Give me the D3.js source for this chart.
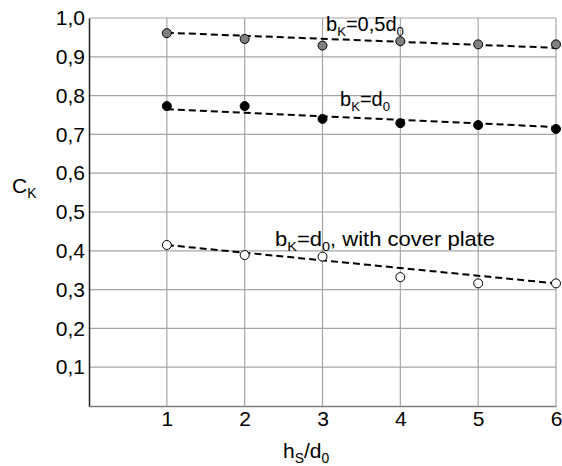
<!DOCTYPE html>
<html>
<head>
<meta charset="utf-8">
<script src="https://cdn.jsdelivr.net/npm/d3@7"></script>
<style>
  body { margin: 0; background: #fff; }
  text { font-family: "Liberation Sans", Arial, sans-serif; }
</style>
</head>
<body>
<div id="chart"></div>
<script>
// values
var hsRatio = [1, 2, 3, 4, 5, 6];
var ckHalf = [0.961, 0.946, 0.929, 0.940, 0.932, 0.932];   // bK = 0,5 d0
var ckFull = [0.773, 0.773, 0.740, 0.729, 0.724, 0.714];   // bK = d0
var ckPlate = [0.415, 0.389, 0.385, 0.332, 0.316, 0.316];  // bK = d0, with cover plate
// trend lines (value at x=1, value at x=6)
var trendHalf = [0.962, 0.923];
var trendFull = [0.765, 0.719];
var trendPlate = [0.415, 0.316];
var yTicks = [0.1, 0.2, 0.3, 0.4, 0.5, 0.6, 0.7, 0.8, 0.9, 1.0];

var W = 562, H = 466;
var margin = {top: 18, right: 6, bottom: 60, left: 89};

var svg = d3.select("#chart").append("svg")
    .attr("width", W)
    .attr("height", H);

var x = d3.scaleLinear().domain([0, 6]).range([margin.left, W - margin.right]);
var y = d3.scaleLinear().domain([0, 1]).range([H - margin.bottom, margin.top]);

/*grid*/
var grid = svg.append("g").attr("class", "grid");
grid.selectAll("line.h")
    .data(yTicks)
    .enter().append("line")
    .attr("x1", x(0)).attr("x2", x(6))
    .attr("y1", function (d) { return y(d); })
    .attr("y2", function (d) { return y(d); })
    .attr("stroke", "#a6a6a6").attr("stroke-width", 1.2);
grid.selectAll("line.v")
    .data(hsRatio)
    .enter().append("line")
    .attr("y1", y(0)).attr("y2", y(1))
    .attr("x1", function (d) { return x(d); })
    .attr("x2", function (d) { return x(d); })
    .attr("stroke", "#a6a6a6").attr("stroke-width", 1.2);

/*axes*/
var fmt = function (d) { return d3.format(".1f")(d).replace(".", ","); };
var yAxis = d3.axisLeft(y).tickValues(yTicks).tickSize(0).tickPadding(4).tickFormat(fmt);
var xAxis = d3.axisBottom(x).tickValues(hsRatio).tickSize(0).tickPadding(5).tickFormat(d3.format("d"));

var gx = svg.append("g")
    .attr("transform", "translate(0," + y(0) + ")")
    .call(xAxis);
gx.select(".domain").attr("stroke", "#7f7f7f").attr("stroke-width", 1.5);
gx.selectAll("text").style("font-size", "21px").attr("fill", "#000");

var gy = svg.append("g")
    .attr("transform", "translate(" + x(0) + ",0)")
    .call(yAxis);
gy.select(".domain").attr("stroke", "#222").attr("stroke-width", 1.5);
gy.selectAll("text").style("font-size", "21px").attr("fill", "#000");

/*trend lines*/
function trend(vals) {
    svg.append("line")
        .attr("x1", x(1)).attr("y1", y(vals[0]))
        .attr("x2", x(6)).attr("y2", y(vals[1]))
        .attr("stroke", "#000")
        .attr("stroke-width", 2)
        .attr("stroke-dasharray", "7,4");
}
trend(trendHalf);
trend(trendFull);
trend(trendPlate);

/*points*/
function dots(vals, fill) {
    svg.append("g").selectAll("circle")
        .data(vals)
        .enter().append("circle")
        .attr("cx", function (d, i) { return x(hsRatio[i]); })
        .attr("cy", function (d) { return y(d); })
        .attr("r", 4.5)
        .attr("fill", fill)
        .attr("stroke", "#000")
        .attr("stroke-width", 1);
}
dots(ckHalf, "#808080");
dots(ckFull, "#000");
dots(ckPlate, "#fff");

/*labels with subscripts*/
// parts: [text, isSub, resetBaseline]
function label(px, py, parts, size, sx) {
    var t = svg.append("text")
        .attr("transform", "translate(" + px + "," + py + ") scale(" + (sx || 1) + ",1)")
        .style("font-size", size + "px");
    parts.forEach(function (p) {
        var s = t.append("tspan").text(p[0]);
        if (p[1]) {
            s.style("font-size", (size * 0.66) + "px").attr("dy", size * 0.25);
        }
        if (p[2]) {
            s.attr("dy", -size * 0.25);
        }
    });
}
label(326, 31, [["b"], ["K", true], ["=0,5d", false, true], ["0", true]], 20);
label(340, 106, [["b"], ["K", true], ["=d", false, true], ["0", true]], 20);
label(275, 246, [["b"], ["K", true], ["=d", false, true], ["0", true], [", with cover plate", false, true]], 20, 1.1);
label(12, 193, [["C"], ["K", true]], 21);
label(283, 458, [["h"], ["S", true], ["/d", false, true], ["0", true]], 21);
</script>
</body>
</html>
